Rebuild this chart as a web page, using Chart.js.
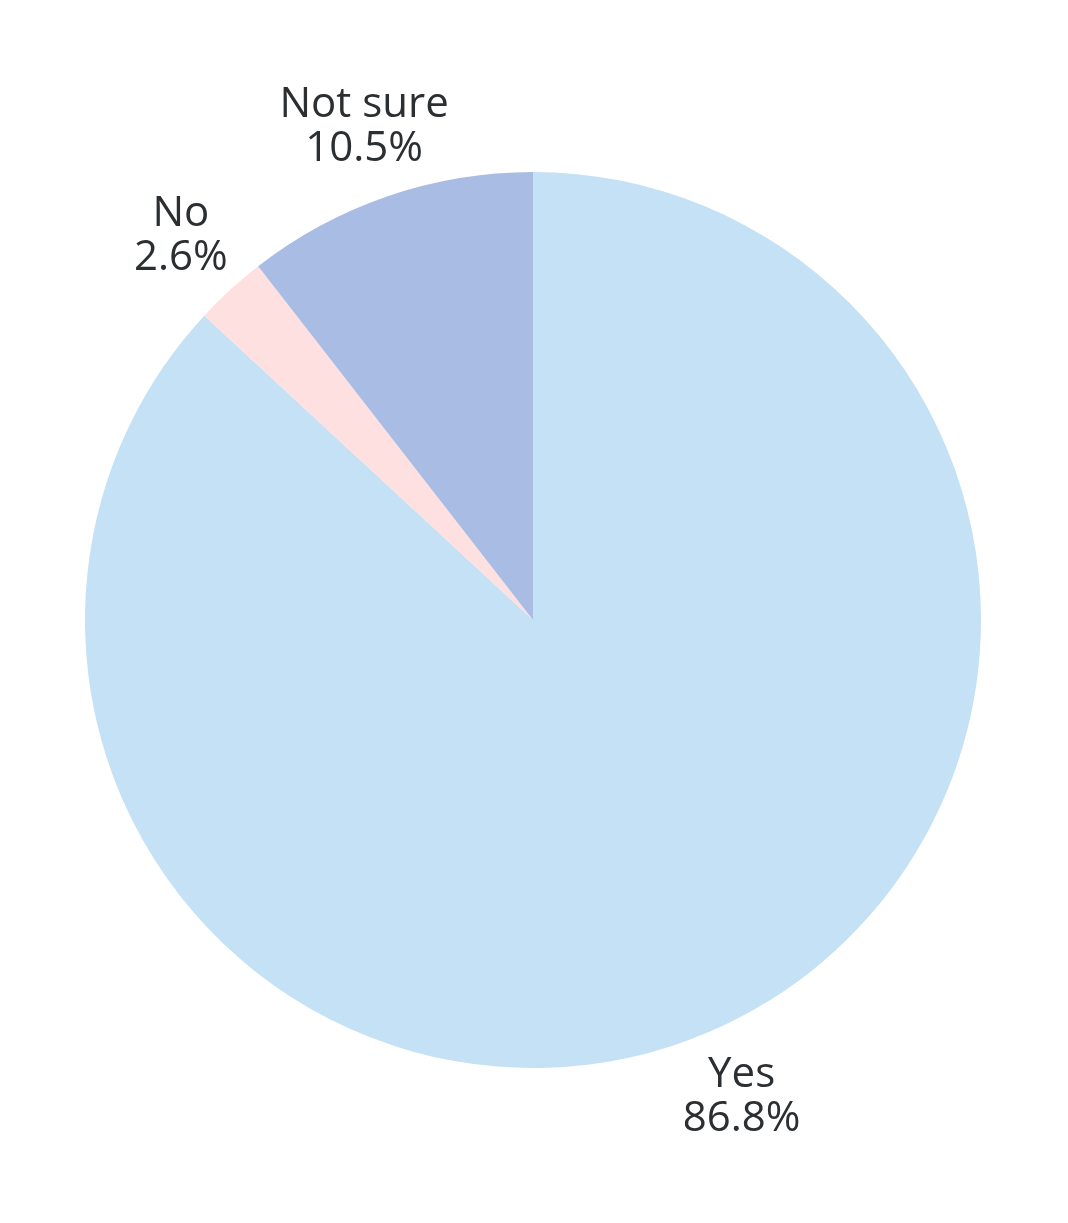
<!DOCTYPE html>
<html>
<head>
<meta charset="utf-8">
<script src="https://cdn.jsdelivr.net/npm/chart.js@4"></script>
<style>
  html, body { margin: 0; padding: 0; background: #fff; }
</style>
</head>
<body>
<canvas id="pieChart" width="1068" height="1223"></canvas>
<script>
const labels = ['Yes', 'No', 'Not sure'];
const percents = [86.8, 2.6, 10.5];
const colors = ['#c4e1f5', '#fde0df', '#a9bce3'];

// スライスの外側にラベルと割合を描く
const outsideLabels = {
    id: 'outsideLabels',
    afterDatasetsDraw(chart) {
        const ctx = chart.ctx;
        const arcs = chart.getDatasetMeta(0).data;
        ctx.save();
        ctx.font = '42px "Open Sans"';
        ctx.fillStyle = '#2b2f31';
        ctx.textAlign = 'center';
        ctx.textBaseline = 'middle';
        arcs.forEach((arc, i) => {
            const mid = (arc.startAngle + arc.endAngle) / 2;
            const dist = arc.outerRadius + 73;
            const x = arc.x + Math.cos(mid) * dist;
            const y = arc.y + Math.sin(mid) * dist;
            ctx.fillText(labels[i], x, y - 22);
            ctx.fillText(percents[i].toFixed(1) + '%', x, y + 22);
        });
        ctx.restore();
    }
};

new Chart(document.getElementById('pieChart').getContext('2d'), {
    type: 'pie',
    data: {
        labels: labels,
        datasets: [{
            data: percents,
            backgroundColor: colors,
            borderWidth: 0
        }]
    },
    options: {
        responsive: false,
        animation: false,
        layout: {
            padding: { left: 85, right: 87, top: 172, bottom: 155 }
        },
        plugins: {
            legend: { display: false },
            tooltip: { enabled: false }
        }
    },
    plugins: [outsideLabels]
});
</script>
</body>
</html>
